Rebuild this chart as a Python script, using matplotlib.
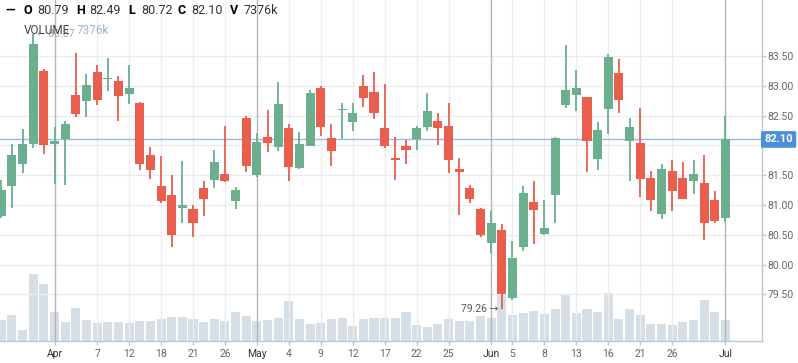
import numpy as np
import matplotlib
matplotlib.use("Agg")
import matplotlib.pyplot as plt
from matplotlib.patches import Rectangle

plt.rcParams['font.family'] = ['Roboto', 'DejaVu Sans']

# daily candles, first one is partly cut off at the left edge
opens = [80.82, 81.32, 81.69, 82.03, 83.25, 82.03, 82.10, 82.85, 82.75, 83.23,
         83.11, 83.08, 82.87, 82.71, 81.84, 81.32, 81.17, 80.95, 80.93, 81.28,
         81.42, 81.52, 81.07, 82.46, 81.51, 82.14, 81.98, 82.29, 81.62, 81.99,
         82.96, 82.12, 82.59, 82.40, 83.00, 82.90, 82.29, 81.78, 81.99, 82.11,
         82.31, 82.41, 82.33, 81.60, 81.28, 80.93, 80.37, 80.58, 79.44, 80.30,
         81.05, 80.52, 81.16, 82.67, 82.85, 82.81, 81.78, 82.61, 83.21, 82.07,
         82.04, 81.45, 80.85, 81.57, 81.45, 81.40, 81.37, 81.08, 80.79]
highs = [81.42, 82.02, 82.27, 83.87, 83.29, 82.31, 82.41, 83.55, 83.20, 83.35,
         83.47, 83.16, 83.35, 82.73, 81.97, 81.82, 81.50, 81.74, 81.00, 81.40,
         81.92, 82.33, 81.30, 82.49, 82.21, 82.59, 83.06, 82.36, 82.22, 82.93,
         83.00, 82.36, 82.71, 82.71, 83.18, 83.23, 83.03, 82.14, 82.09, 82.33,
         82.88, 82.54, 82.71, 81.79, 81.33, 80.95, 80.90, 80.68, 80.40, 81.32,
         81.40, 81.08, 82.14, 83.68, 83.27, 82.82, 82.39, 83.53, 83.45, 82.46,
         82.63, 81.57, 81.69, 81.75, 81.72, 81.75, 81.84, 81.23, 82.49]
lows = [80.79, 80.95, 81.54, 81.95, 81.86, 81.36, 81.34, 82.47, 82.47, 82.68,
        82.92, 82.41, 82.70, 81.58, 81.44, 81.04, 80.30, 80.70, 80.47, 80.82,
        81.29, 81.39, 80.94, 81.56, 81.47, 81.89, 81.91, 81.41, 81.61, 81.99,
        82.16, 81.66, 82.10, 82.25, 82.65, 82.45, 81.96, 81.42, 81.69, 81.93,
        82.25, 82.01, 81.53, 80.84, 81.04, 80.47, 80.20, 79.26, 79.41, 80.22,
        80.35, 80.50, 80.69, 82.63, 82.57, 81.56, 81.58, 82.19, 82.54, 81.41,
        81.14, 80.90, 80.76, 80.90, 81.10, 81.18, 80.41, 80.70, 80.72]
closes = [81.25, 81.84, 82.02, 83.70, 82.01, 82.07, 82.36, 82.53, 83.01, 82.77,
          83.13, 82.83, 82.96, 81.69, 81.58, 81.06, 80.50, 81.00, 80.69, 81.10,
          81.72, 81.40, 81.25, 81.66, 82.06, 82.04, 82.69, 81.64, 82.02, 82.88,
          82.31, 81.91, 82.61, 82.54, 82.80, 82.55, 81.99, 81.76, 81.93, 82.29,
          82.58, 82.29, 81.76, 81.56, 81.10, 80.50, 80.70, 79.51, 80.11, 81.20,
          80.92, 80.61, 82.12, 82.93, 82.96, 82.08, 82.26, 83.48, 82.76, 82.31,
          81.44, 81.08, 81.60, 81.23, 81.10, 81.52, 80.70, 80.73, 82.10]
volumes = [7370, 9130, 3860, 23520, 20010, 10180, 6670, 11590, 7370, 6320,
           6670, 6670, 6320, 7020, 7020, 7720, 8420, 8420, 7720, 6670,
           7720, 7020, 10180, 8780, 7020, 7370, 8070, 14040, 7720, 5970,
           6320, 7720, 8070, 5270, 7720, 8070, 8070, 8070, 10180, 5620,
           4910, 5970, 7720, 7020, 7020, 8780, 8070, 16500, 9130, 9830,
           10530, 9480, 11230, 16150, 9830, 11230, 10180, 16850, 7720, 11230,
           9130, 5970, 5970, 5620, 6670, 7370, 14390, 10180, 7376]

tick_pos = [5, 9, 12, 15, 18, 21, 24, 27, 30, 33, 36, 39, 42, 46, 48, 51, 54,
            57, 60, 63, 68]
tick_labels = ['Apr', '7', '12', '18', '21', '26', 'May', '4', '9', '12', '17',
               '22', '25', 'Jun', '5', '8', '13', '16', '21', '26', 'Jul']
months = ['Apr', 'May', 'Jun', 'Jul']
price_ticks = [79.5, 80.0, 80.5, 81.0, 81.5, 82.0, 82.5, 83.0, 83.5]

green = '#6baf8f'
red = '#ea5e4e'
axis_c = '#b8c8d8'
grid_c = '#ececec'

W, H = 798, 363
fig = plt.figure(figsize=(W / 100, H / 100), dpi=100)
rect = [0, 22 / H, 762 / W, 341 / H]

axv = fig.add_axes(rect)
ax = fig.add_axes(rect)
ax.patch.set_visible(False)

x = np.arange(len(opens))
bw = 0.85
xlim = (-0.12, 71.43)

# volume
axv.bar(x, volumes, width=bw, color='#d6dee6', zorder=2)
axv.set_xlim(*xlim)
axv.set_ylim(0, 119760)
axv.axis('off')

# grid
for p, lab in zip(tick_pos, tick_labels):
    if lab in months:
        ax.axvline(p, color='#b4b4b4', lw=1, zorder=1)
    else:
        ax.axvline(p, color=grid_c, lw=1, zorder=0)
for t in price_ticks:
    ax.axhline(t, color=grid_c, lw=1, zorder=0)

# candles
for i in range(len(opens)):
    o, h, l, c = opens[i], highs[i], lows[i], closes[i]
    col = green if c >= o else red
    ax.plot([x[i], x[i]], [l, h], color=col, lw=1.3, zorder=3,
            solid_capstyle='butt')
    lo = min(o, c)
    hgt = max(abs(c - o), 0.025)
    ax.add_patch(Rectangle((x[i] - bw / 2, lo), bw, hgt, facecolor=col,
                           edgecolor='none', zorder=4))

last = closes[-1]
ax.axhline(last, color='#9ab8e8', lw=1, zorder=2)

ax.set_xlim(*xlim)
ax.set_ylim(78.718, 84.44)

ax.yaxis.tick_right()
ax.set_yticks(price_ticks)
# the label nearest the last price is covered by its box
ax.set_yticklabels(['' if abs(t - last) < 0.2 else '%.2f' % t
                    for t in price_ticks])
ax.tick_params(axis='y', length=3, width=1, color=axis_c, labelcolor='#666666',
               labelsize=7.5, pad=1)
ax.set_xticks(tick_pos)
ax.set_xticklabels(tick_labels)
ax.tick_params(axis='x', length=3, width=1, color=axis_c, labelcolor='#666666',
               labelsize=7.5, pad=3)
for lbl in ax.get_xticklabels():
    if lbl.get_text() in months:
        lbl.set_color('#333333')

for s in ['top', 'left']:
    ax.spines[s].set_visible(False)
for s in ['right', 'bottom']:
    ax.spines[s].set_color(axis_c)
    ax.spines[s].set_linewidth(1)

# last price box
ax.text(1.003, last, '%.2f' % last, transform=ax.get_yaxis_transform(),
        ha='left', va='center', fontsize=8, color='white', fontweight='bold',
        bbox=dict(boxstyle='round,pad=0.3,rounding_size=0.15',
                  facecolor='#4a8fd8', edgecolor='none'), zorder=10)

# extremes
lo_i = int(np.argmin(lows))
ax.text(lo_i - 0.35, lows[lo_i], '%.2f \u2192' % lows[lo_i], ha='right',
        va='center', fontsize=7.5, color='#555555', zorder=5)
hi_i = int(np.argmax(highs))
ax.text(hi_i + 0.35, highs[hi_i], '\u2190 %.2f' % highs[hi_i], ha='left',
        va='center', fontsize=7.5, color='#aaaaaa', zorder=5)

# legend
def ftxt(px, py, s, **kw):
    fig.text(px / W, 1 - py / H, s, va='center', ha='left', **kw)

ftxt(5, 10, '\u2014', fontsize=9, color='black', fontweight='bold')
items = [('O', opens[-1], 24), ('H', highs[-1], 76), ('L', lows[-1], 128),
         ('C', closes[-1], 178)]
for k, v, px in items:
    ftxt(px, 10, k, fontsize=9, color='black', fontweight='bold')
    ftxt(px + 13, 10, '%.2f' % v, fontsize=9, color='#333333')
ftxt(230, 10, 'V', fontsize=9, color='black', fontweight='bold')
ftxt(243, 10, '%dk' % volumes[-1], fontsize=9, color='#333333')
ftxt(24, 31, 'VOLUME', fontsize=8.5, color='#444444')
ftxt(77, 31, '%dk' % volumes[-1], fontsize=8.5, color='#a0b4c8')

fig.savefig('out.png', dpi=100)
